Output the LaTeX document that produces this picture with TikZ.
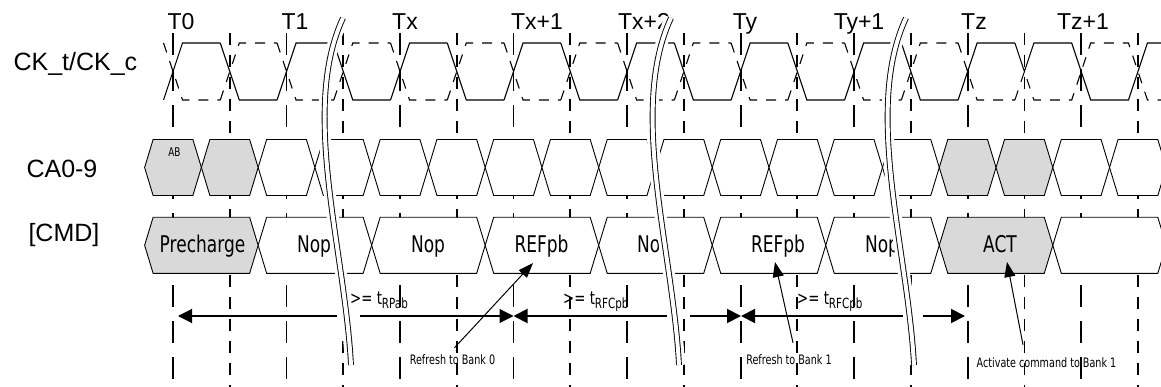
\documentclass[tikz,border=0pt]{standalone}
\usepackage{fontspec}
\setmainfont{Liberation Sans}
\newfontfamily\narrowfont[FakeStretch=0.74]{DejaVu Sans}
\usetikzlibrary{arrows.meta}

\begin{document}
\begin{tikzpicture}[x=1pt, y=-1pt, >={Triangle[length=14pt,width=14pt]},
  rowlbl/.style={anchor=base west, font=\fontsize{25}{30}\selectfont},
  tlbl/.style={anchor=base, font=\fontsize{23}{28}\selectfont},
  gridev/.style={line width=1.8pt, dash pattern=on 22pt off 14pt},
  gridodd/.style={line width=1.8pt, dash pattern=on 12pt off 10pt},
  cktrue/.style={line width=1.1pt},
  ckcomp/.style={line width=1.1pt, dash pattern=on 10pt off 9pt},
  sigbox/.style={draw, line width=0.9pt, fill=white},
  busy/.style={sigbox, fill=gray!30},
  cmdtext/.style={anchor=base, inner sep=0pt, font=\narrowfont\fontsize{23}{28}\selectfont},
  spanlbl/.style={anchor=base west, inner sep=0pt, font=\narrowfont\fontsize{18}{22}\selectfont},
  notelbl/.style={inner sep=1pt, font=\narrowfont\fontsize{13}{16}\selectfont},
  tspan/.style={line width=2pt},
  pointer/.style={->, >={Triangle[length=15pt,width=11pt]}, line width=1pt},
  breakline/.style={double, double distance=4pt, line width=0.9pt}]
  \useasboundingbox (0,0) rectangle (1161,387);

  % Clock edge grid, long dashes on the labelled edges
  \foreach \k [evaluate=\k as \gx using 173+56.76*\k] in {0,...,17}{
    \ifodd\k \draw[gridodd] (\gx,33) -- (\gx,387);
    \else \draw[gridev] (\gx,33) -- (\gx,387); \fi
  }

  % CK_t (solid) and CK_c (dashed)
  \foreach \k [evaluate=\k as \gx using 173+56.76*\k] in {0,...,14}{
    \ifodd\k
      \draw[cktrue] (\gx-9.5,43) -- (\gx+9.5,100) -- (\gx+47.26,100);
      \draw[ckcomp] (\gx-9.5,100) -- (\gx+9.5,43) -- (\gx+47.26,43);
    \else
      \draw[cktrue] (\gx-9.5,100) -- (\gx+9.5,43) -- (\gx+47.26,43);
      \draw[ckcomp] (\gx-9.5,43) -- (\gx+9.5,100) -- (\gx+47.26,100);
    \fi
  }
  \draw[cktrue] (1014.9,43) -- (1024.4,71.5) -- (1033.9,43) -- (1071.66,43) -- (1090.66,100)
    -- (1128.42,100) -- (1147.42,43) -- (1175,43);
  \draw[ckcomp] (1014.9,100) -- (1024.4,71.5) -- (1033.9,100) -- (1071.66,100) -- (1090.66,43)
    -- (1128.42,43) -- (1147.42,100) -- (1175,100);

  % CA0-9 bus
  \foreach \k [evaluate=\k as \m using 144.62+56.76*\k] in {2,...,13,16,17}
    \draw[sigbox] (\m,167.5) -- (\m+8.5,139.5) -- (\m+48.26,139.5) -- (\m+56.76,167.5)
      -- (\m+48.26,195.5) -- (\m+8.5,195.5) -- cycle;
  \foreach \k [evaluate=\k as \m using 144.62+56.76*\k] in {0,1,14,15}
    \draw[busy] (\m,167.5) -- (\m+8.5,139.5) -- (\m+48.26,139.5) -- (\m+56.76,167.5)
      -- (\m+48.26,195.5) -- (\m+8.5,195.5) -- cycle;
  \node[notelbl, font=\narrowfont\fontsize{12}{14}\selectfont] (ab) at (174.5,152) {AB};

  % Command bus
  \foreach \j [evaluate=\j as \c using 144.62+113.52*\j] in {1,...,6,8}
    \draw[sigbox] (\c,245.3) -- (\c+8.5,217.3) -- (\c+105.02,217.3) -- (\c+113.52,245.3)
      -- (\c+105.02,273.3) -- (\c+8.5,273.3) -- cycle;
  \foreach \j [evaluate=\j as \c using 144.62+113.52*\j] in {0,7}
    \draw[busy] (\c,245.3) -- (\c+8.5,217.3) -- (\c+105.02,217.3) -- (\c+113.52,245.3)
      -- (\c+105.02,273.3) -- (\c+8.5,273.3) -- cycle;
  \node[cmdtext] (pre) at (202.5,252) {Precharge};
  \node[cmdtext] (nopa) at (314,252) {Nop};
  \node[cmdtext] (nopb) at (428,252) {Nop};
  \node[cmdtext] (refa) at (541.5,252) {REFpb};
  \node[cmdtext] (nopc) at (654,252) {Nop};
  \node[cmdtext] (refb) at (778,252) {REFpb};
  \node[cmdtext] (nopd) at (882,252) {Nop};
  \node[cmdtext] (act) at (1000,252) {ACT};

  % Row names
  \node[rowlbl] (ck) at (10,71) {CK\_t/CK\_c};
  \node[rowlbl] (ca) at (23,178) {CA0-9};
  \node[rowlbl] (cmd) at (25,242) {[CMD]};

  % Clock labels
  \node[tlbl] (t0) at (181,30) {T0};
  \node[tlbl] (t1) at (295,30) {T1};
  \node[tlbl] (tx) at (405,30) {Tx};
  \node[tlbl] (txa) at (537,30) {Tx+1};
  \node[tlbl] (txb) at (644,30) {Tx+2};
  \node[tlbl] (ty) at (745,30) {Ty};
  \node[tlbl] (tya) at (859,30) {Ty+1};
  \node[tlbl] (tz) at (974,30) {Tz};
  \node[tlbl] (tza) at (1083,30) {Tz+1};

  % Timing spans
  \coordinate (s0) at (178,316);
  \coordinate (s1) at (513.5,316);
  \coordinate (s2) at (741,316);
  \coordinate (s3) at (965,316);
  \coordinate (c1l) at (337,316);
  \coordinate (c1r) at (360,316);
  \coordinate (c2l) at (667,316);
  \coordinate (c2r) at (690,316);
  \coordinate (c3l) at (903,316);
  \coordinate (c3r) at (923,316);
  \draw[tspan, line width=1.2pt, <-] (s0) -- (c1l);
  \draw[tspan, line width=1.2pt, ->] (c1r) -- (s1);
  \draw[tspan, <-] (s1) -- (c2l);
  \draw[tspan, ->] (c2r) -- (s2);
  \draw[tspan, <-] (s2) -- (c3l);
  \draw[tspan, ->] (c3r) -- (s3);
  \node[spanlbl] (trp) at (350,304) {>= t\raisebox{-4pt}{\fontsize{14}{16}\selectfont RPab}};
  \node[spanlbl] (trfa) at (563,304) {>= t\raisebox{-4pt}{\fontsize{14}{16}\selectfont RFCpb}};
  \node[spanlbl] (trfb) at (797,304) {>= t\raisebox{-4pt}{\fontsize{14}{16}\selectfont RFCpb}};

  % Notes
  \node[notelbl] (bank0) at (452.5,360) {Refresh to Bank 0};
  \node[notelbl] (bank1) at (789,360) {Refresh to Bank 1};
  \node[notelbl] (actnote) at (1046.5,363) {Activate command to Bank 1};
  \coordinate (h0) at (533,263);
  \coordinate (h1) at (775,262);
  \coordinate (h2) at (1007,262);
  \draw[pointer] ([shift={(2pt,6pt)}]bank0.north) -- (h0);
  \draw[pointer] ([shift={(4pt,11pt)}]bank1.north) -- (h1);
  \draw[pointer] ([shift={(-23.5pt,12pt)}]actnote.north) -- (h2);

  % Time breaks
  \foreach \s in {0,328,563}{
    \draw[shift={(\s,0)}, white, line width=12pt] (343,18) .. controls (300,110) and (345,250) .. (351,365);
    \draw[shift={(\s,0)}, breakline] (343,18) .. controls (300,110) and (345,250) .. (351,365);
  }
\end{tikzpicture}
\end{document}
